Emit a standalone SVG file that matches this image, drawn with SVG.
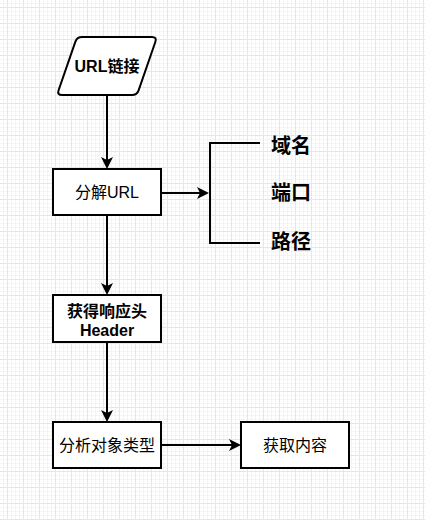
<svg xmlns="http://www.w3.org/2000/svg" width="425" height="520" viewBox="0 0 425 520">
<defs>
<pattern id="minor" patternUnits="userSpaceOnUse" x="7" y="7" width="4" height="4">
<path d="M0.5,0 V4 M0,0.5 H4" stroke="#f4f4f4" stroke-width="1" fill="none"/>
</pattern>
<pattern id="major" patternUnits="userSpaceOnUse" x="7" y="7" width="16" height="16">
<path d="M0.5,0 V16 M0,0.5 H16" stroke="#e6e6e6" stroke-width="1" fill="none"/>
</pattern>
<marker id="arr" markerUnits="userSpaceOnUse" markerWidth="12" markerHeight="12" refX="9" refY="6" orient="auto">
<path d="M0,0 L12,6 L0,12 L3,6 Z" fill="#000"/>
</marker>
<style>
.box{fill:#fff;stroke:#000;stroke-width:2}
.t{font-family:"Liberation Sans","Noto Sans CJK SC",sans-serif;font-size:16px;fill:#000;text-anchor:middle;dominant-baseline:central}
.big{font-family:"Liberation Sans","Noto Sans CJK SC",sans-serif;font-size:20px;font-weight:bold;fill:#000;text-anchor:middle;dominant-baseline:central}
.ln{fill:none;stroke:#000;stroke-width:2}
</style>
</defs>
<rect width="425" height="520" fill="#fff"/>
<rect width="425" height="520" fill="url(#minor)"/>
<rect width="425" height="520" fill="url(#major)"/>
<g id="connectors">
<path class="ln" d="M107,95 V166" marker-end="url(#arr)"/>
<path class="ln" d="M107,215 V292" marker-end="url(#arr)"/>
<path class="ln" d="M107,342 V419" marker-end="url(#arr)"/>
<path class="ln" d="M161,445 H238" marker-end="url(#arr)"/>
<path class="ln" d="M161,193 H206" marker-end="url(#arr)"/>
<path class="ln" d="M260,143 H210 V243 H260"/>
</g>
<g id="url">
<path class="box" d="M82,37 H152 Q157,37 155.4,41.7 L138.6,90.3 Q137,95 132,95 H62 Q57,95 58.6,90.3 L75.4,41.7 Q77,37 82,37 Z"/>
<text class="t" x="107" y="66" font-weight="bold">URL链接</text>
</g>
<g id="parse">
<rect class="box" x="53" y="169" width="108" height="46"/>
<text class="t" x="107" y="192">分解URL</text>
</g>
<g id="header">
<rect class="box" x="53" y="295" width="108" height="47"/>
<text class="t" x="107" y="311" font-weight="bold">获得响应头</text>
<text class="t" x="107" y="330" font-weight="bold" font-size="15">Header</text>
</g>
<g id="analyze">
<rect class="box" x="53" y="422" width="108" height="46"/>
<text class="t" x="107" y="445">分析对象类型</text>
</g>
<g id="fetch">
<rect class="box" x="241" y="422" width="108" height="46"/>
<text class="t" x="295" y="445">获取内容</text>
</g>
<g id="domain"><text class="big" x="291" y="146">域名</text></g>
<g id="port"><text class="big" x="291" y="193">端口</text></g>
<g id="path"><text class="big" x="291" y="242">路径</text></g>
</svg>
